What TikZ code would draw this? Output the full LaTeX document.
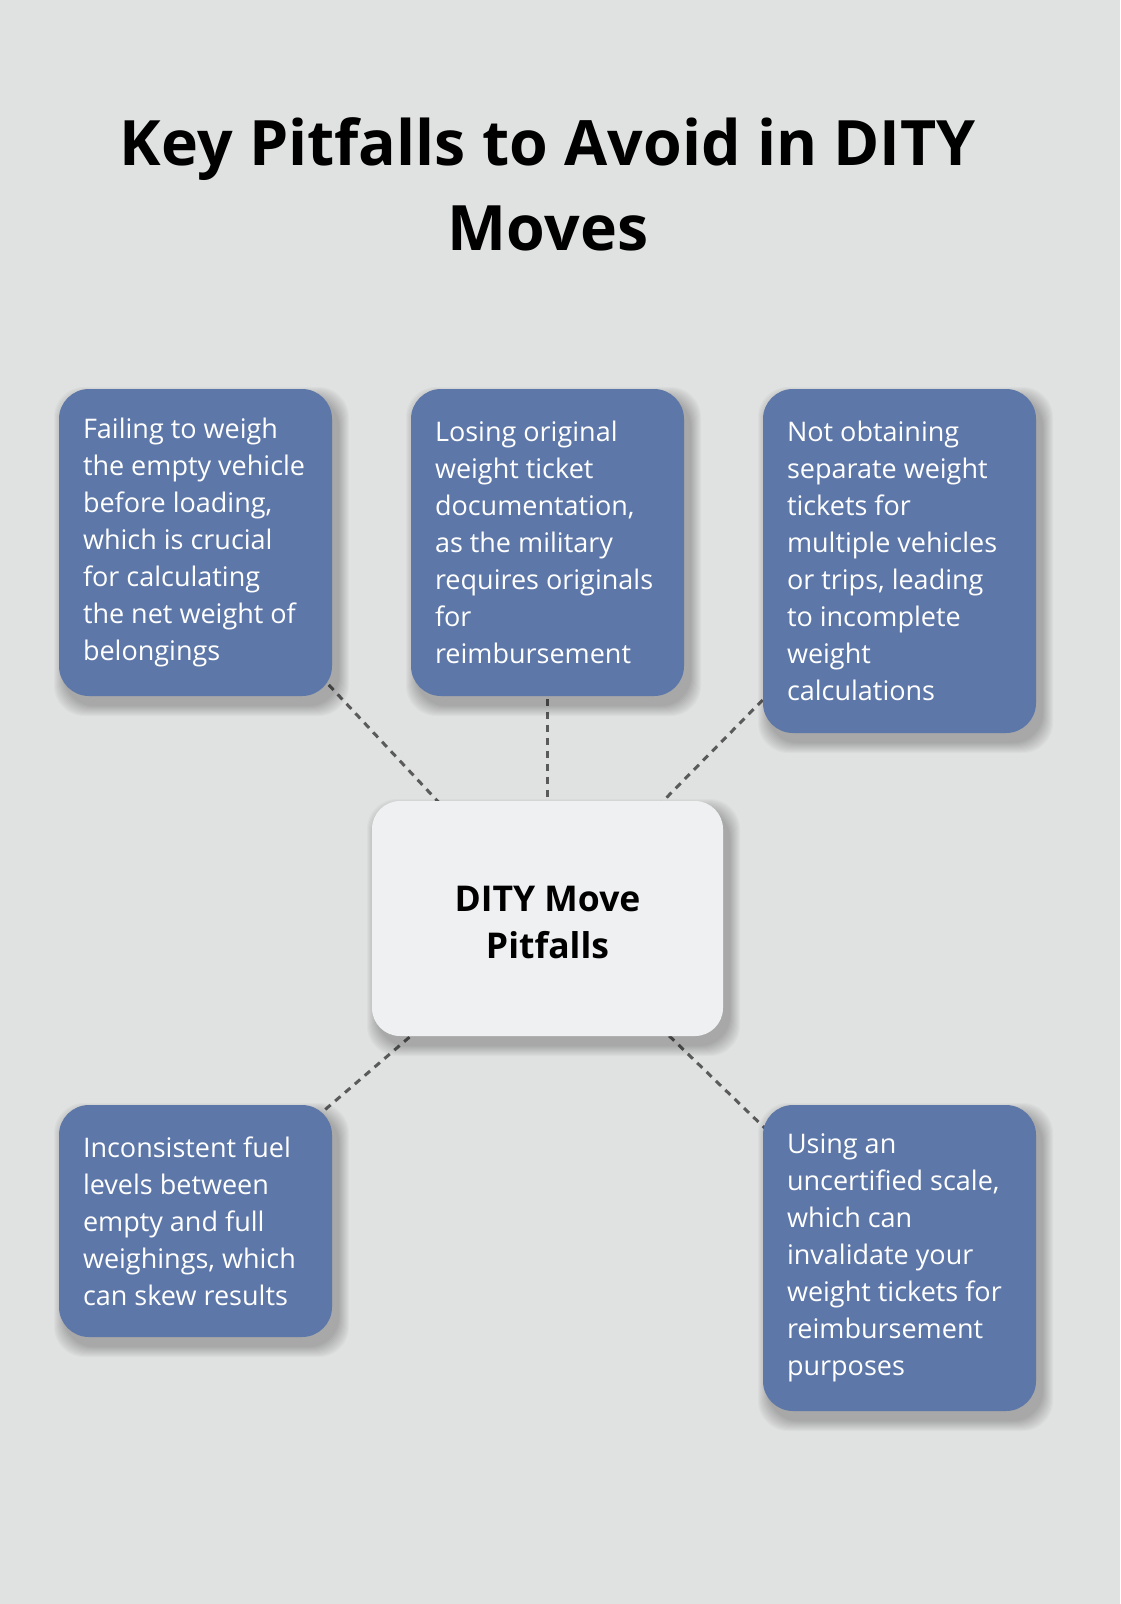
\documentclass[tikz,border=0pt]{standalone}
\usepackage{fontspec}
\setmainfont{Open Sans}
\definecolor{bgc}{HTML}{E0E2E1}
\definecolor{boxblue}{HTML}{5D77A8}
\definecolor{centerc}{HTML}{EFF0F2}
\definecolor{linec}{HTML}{5A5A5A}
\newcommand{\mkshadow}[4]{%
  \foreach \s in {1,...,11}{%
    \fill[black,opacity=0.022,rounded corners=30pt]
      ({#1-#3/2+6-\s},{#2-#4/2+9-\s}) rectangle ({#1+#3/2+6+\s},{#2+#4/2+9+\s});}}
\tikzset{
  pitbox/.style={draw=none, fill=boxblue, rounded corners=30pt,
    minimum width=273pt, inner sep=0pt},
  boxtext/.style={anchor=west, text=white, align=left, inner sep=0pt,
    font=\fontsize{27pt}{37pt}\selectfont},
  centerbox/.style={draw=none, fill=centerc, rounded corners=28pt,
    minimum width=351pt, minimum height=235pt, inner sep=0pt},
  centertext/.style={text=black, align=center, inner sep=0pt,
    font=\bfseries\fontsize{35.5pt}{47pt}\selectfont},
  conn/.style={draw=linec, line width=3pt, dash pattern=on 7pt off 6pt},
  titletext/.style={align=center, font=\bfseries\fontsize{62.6pt}{85pt}\selectfont, text=black}
}
\begin{document}
\begin{tikzpicture}[x=1pt,y=-1pt]
\fill[bgc] (0,0) rectangle (1120,1604);
\useasboundingbox (0,0) rectangle (1120,1604);
\coordinate (p1) at (195.5,542.5);
\coordinate (p2) at (547.5,542.5);
\coordinate (p3) at (899.5,561);
\coordinate (pc) at (547.5,918.5);
\coordinate (p4) at (195.5,1221);
\coordinate (p5) at (899.5,1258);
\draw[conn] (p1) -- (pc);
\draw[conn] (p2) -- (pc);
\draw[conn] (p3) -- (pc);
\draw[conn] (pc) -- (p4);
\draw[conn] (pc) -- (p5);
\mkshadow{195.5}{542.5}{273}{307}
\mkshadow{547.5}{542.5}{273}{307}
\mkshadow{899.5}{561}{273}{344}
\mkshadow{547.5}{918.5}{351}{235}
\mkshadow{195.5}{1221}{273}{232}
\mkshadow{899.5}{1258}{273}{306}
\node[titletext] (title) at (548,184) {Key Pitfalls to Avoid in DITY\\Moves};
\node[pitbox, minimum height=307pt] (b1) at (p1) {};
\node[boxtext] (t1) at ([xshift=24pt]b1.west) {Failing to weigh\\the empty vehicle\\before loading,\\which is crucial\\for calculating\\the net weight of\\belongings};
\node[pitbox, minimum height=307pt] (b2) at (p2) {};
\node[boxtext] (t2) at ([xshift=24pt]b2.west) {Losing original\\weight ticket\\documentation,\\as the military\\requires originals\\for\\reimbursement};
\node[pitbox, minimum height=344pt] (b3) at (p3) {};
\node[boxtext] (t3) at ([xshift=24pt]b3.west) {Not obtaining\\separate weight\\tickets for\\multiple vehicles\\or trips, leading\\to incomplete\\weight\\calculations};
\node[centerbox] (c) at (pc) {};
\node[centertext] (ct) at ([yshift=-3.5pt]c.center) {DITY Move\\Pitfalls};
\node[pitbox, minimum height=232pt] (b4) at (p4) {};
\node[boxtext] (t4) at ([xshift=24pt]b4.west) {Inconsistent fuel\\levels between\\empty and full\\weighings, which\\can skew results};
\node[pitbox, minimum height=306pt] (b5) at (p5) {};
\node[boxtext] (t5) at ([xshift=24pt]b5.west) {Using an\\uncertified scale,\\which can\\invalidate your\\weight tickets for\\reimbursement\\purposes};
\end{tikzpicture}
\end{document}
